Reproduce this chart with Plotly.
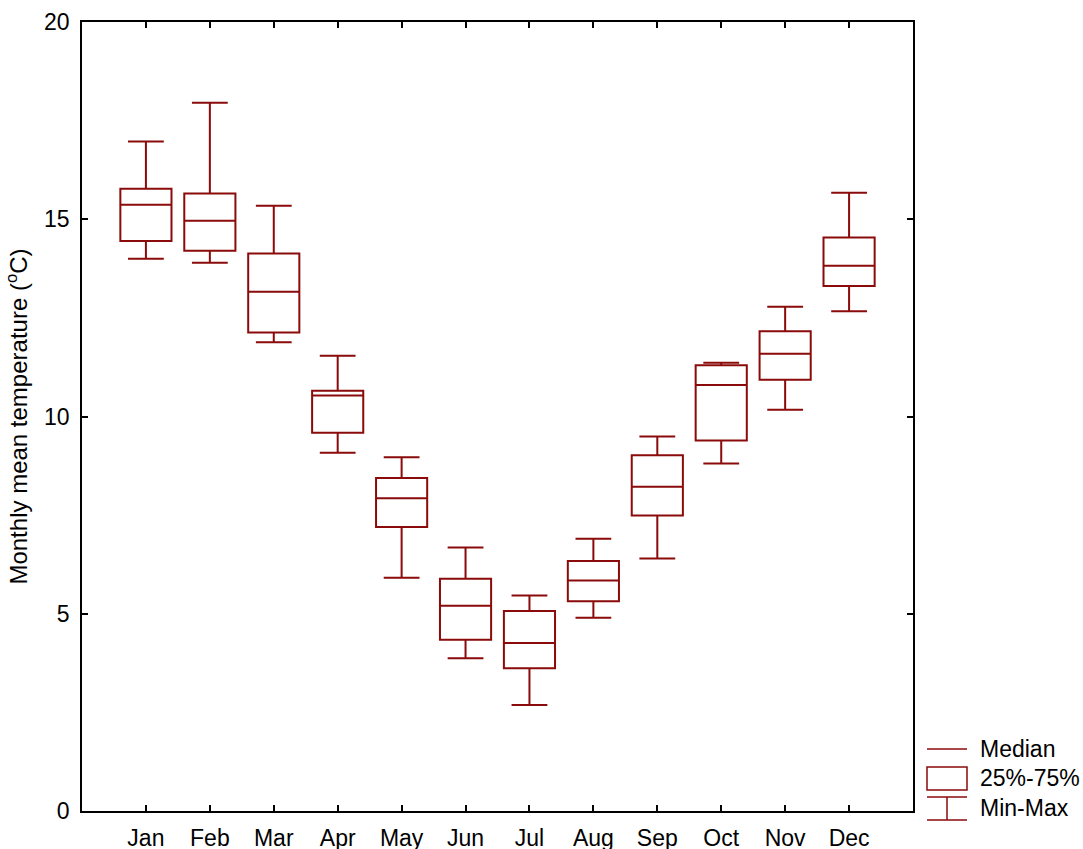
import plotly.graph_objects as go

months = ["Jan", "Feb", "Mar", "Apr", "May", "Jun", "Jul", "Aug", "Sep", "Oct", "Nov", "Dec"]
t_min = [14.0, 13.9, 11.88, 9.08, 5.91, 3.87, 2.69, 4.9, 6.4, 8.81, 10.17, 12.67]
t_q1 = [14.45, 14.2, 12.13, 9.59, 7.2, 4.34, 3.62, 5.32, 7.49, 9.39, 10.93, 13.31]
t_median = [15.37, 14.96, 13.16, 10.53, 7.93, 5.2, 4.26, 5.84, 8.22, 10.8, 11.59, 13.82]
t_q3 = [15.77, 15.65, 14.13, 10.65, 8.44, 5.89, 5.07, 6.34, 9.02, 11.3, 12.16, 14.54]
t_max = [16.97, 17.95, 15.34, 11.54, 8.97, 6.68, 5.46, 6.9, 9.49, 11.36, 12.78, 15.67]

legend_labels = ["Median", "25%-75%", "Min-Max"]
y_ticks = [0, 5, 10, 15, 20]

RED = "#8B0A0A"
FONT = "Liberation Sans, Arial, sans-serif"

fig = go.Figure()
fig.add_trace(go.Box(
    x=list(range(len(months))),
    q1=t_q1, median=t_median, q3=t_q3,
    lowerfence=t_min, upperfence=t_max,
    fillcolor="rgba(0,0,0,0)",
    line=dict(color=RED, width=2),
    whiskerwidth=0.7,
    width=0.8,
    boxpoints=False,
    showlegend=False,
    hoverinfo="skip",
))

axis_common = dict(
    showline=True, linecolor="black", linewidth=1.5, mirror="ticks",
    ticks="inside", ticklen=6, tickwidth=1.5, tickcolor="black",
    showgrid=False, zeroline=False, automargin=False,
    tickfont=dict(family=FONT, size=23, color="black"),
)

fig.update_layout(
    width=1083, height=849,
    margin=dict(l=82, r=170, t=22, b=38),
    paper_bgcolor="white", plot_bgcolor="white",
    xaxis=dict(range=[-1, 12], tickmode="array",
               tickvals=list(range(len(months))), ticktext=months,
               ticklabelstandoff=6, **axis_common),
    yaxis=dict(range=[0, 20], tickmode="array", tickvals=y_ticks,
               ticktext=[str(v) for v in y_ticks], ticklabelstandoff=6,
               title=dict(text="Monthly mean temperature (<sup>o</sup>C)",
                          font=dict(family=FONT, size=24, color="black"),
                          standoff=10),
               **axis_common),
)

pw = 831.0
ph = 789.0
def py(ypix):
    return (811 - ypix) / ph
def px(xpix):
    return (xpix - 82) / pw

shapes = []
shapes.append(dict(type="line", xref="paper", yref="paper",
                   x0=px(927), x1=px(967), y0=py(749), y1=py(749),
                   line=dict(color=RED, width=1.5)))
shapes.append(dict(type="rect", xref="paper", yref="paper",
                   x0=px(927), x1=px(967), y0=py(790), y1=py(767),
                   line=dict(color=RED, width=1.5)))
shapes.append(dict(type="line", xref="paper", yref="paper",
                   x0=px(927), x1=px(967), y0=py(797), y1=py(797),
                   line=dict(color=RED, width=1.5)))
shapes.append(dict(type="line", xref="paper", yref="paper",
                   x0=px(927), x1=px(967), y0=py(820), y1=py(820),
                   line=dict(color=RED, width=1.5)))
shapes.append(dict(type="line", xref="paper", yref="paper",
                   x0=px(947), x1=px(947), y0=py(797), y1=py(820),
                   line=dict(color=RED, width=1.5)))
fig.update_layout(shapes=shapes)

for lab, ypix in zip(legend_labels, [749, 778, 808]):
    fig.add_annotation(xref="paper", yref="paper", x=px(978), y=py(ypix),
                       text=lab, showarrow=False, xanchor="left", yanchor="middle",
                       font=dict(family=FONT, size=23, color="black"))

fig.write_html("out.html")
